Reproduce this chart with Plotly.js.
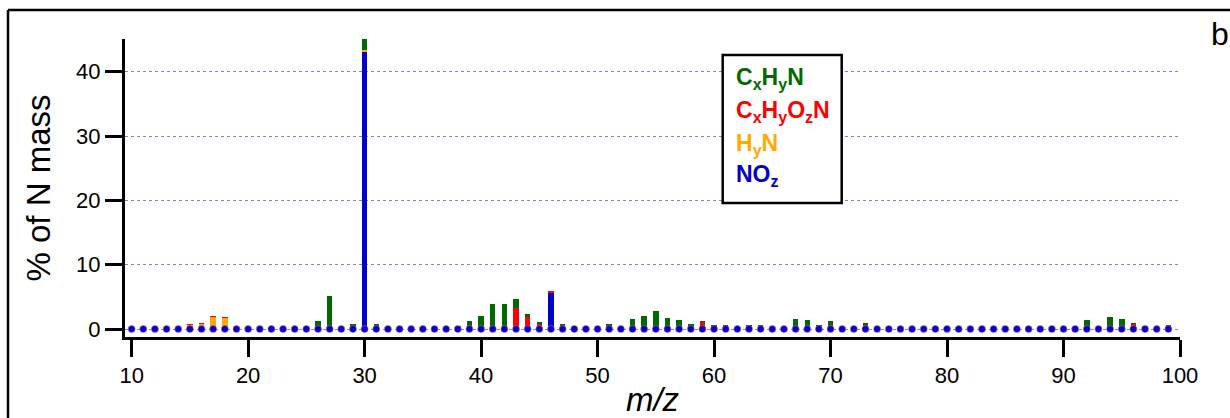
<!DOCTYPE html>
<html>
<head>
<meta charset="utf-8">
<script src="https://cdn.plot.ly/plotly-3.0.1.min.js"></script>
<style>html,body{margin:0;padding:0;background:#fff;}#chart{width:1230px;height:418px;}</style>
</head>
<body>
<div id="chart"></div>
<script>
// m/z values
const mz = [10,11,12,13,14,15,16,17,18,19,
            20,21,22,23,24,25,26,27,28,29,
            30,31,32,33,34,35,36,37,38,39,
            40,41,42,43,44,45,46,47,48,49,
            50,51,52,53,54,55,56,57,58,59,
            60,61,62,63,64,65,66,67,68,69,
            70,71,72,73,74,75,76,77,78,79,
            80,81,82,83,84,85,86,87,88,89,
            90,91,92,93,94,95,96,97,98,99];
// NOz (blue)
const NOz = [0,0,0,0,0,0,0,0,0,0,
             0,0,0,0,0,0,0,0,0,0,
             43.0,0,0,0,0,0,0,0,0,0,
             0,0,0,0,0,0,5.6,0.1,0,0,
             0,0,0,0,0,0,0,0,0,0,
             0,0,0,0,0,0,0,0,0,0,
             0,0,0,0,0,0,0,0,0,0,
             0,0,0,0,0,0,0,0,0,0,
             0,0,0,0,0,0,0,0,0,0];
// HyN (orange)
const HyN = [0,0,0,0,0,0.7,0.8,1.9,1.7,0,
             0,0,0,0,0,0,0,0,0,0,
             0.3,0.1,0.2,0,0,0,0,0,0,0,
             0,0,0,0,0,0,0.05,0.05,0,0,
             0,0,0,0,0,0,0,0,0,0,
             0,0,0,0,0,0,0,0,0,0,
             0,0,0,0,0,0,0,0,0,0,
             0,0,0,0,0,0,0,0,0,0,
             0,0,0,0,0,0,0,0,0,0];
// CxHyOzN (red)
const CxHyOzN = [0,0,0,0,0,0.15,0.2,0.2,0.15,0,
                 0,0,0,0,0,0,0,0,0,0,
                 0,0.2,0.15,0,0,0,0,0,0,0,
                 0,0.1,0.5,3.3,1.8,0.8,0.3,0.4,0.1,0,
                 0,0,0,0.1,0.2,0.5,0.4,0.3,0.1,1.1,
                 0.4,0.5,0.2,0.2,0.05,0,0,0.2,0.45,0.45,
                 0.55,0,0,0.7,0.2,0.05,0,0,0,0,
                 0,0,0,0,0,0,0,0.1,0,0,
                 0,0.2,0,0,0,0.05,0.8,0,0,0.5];
// CxHyN (green)
const CxHyN = [0,0,0,0,0,0,0,0,0,0,
               0,0,0,0,0,0,1.2,5.1,0,0.8,
               2.0,0.5,0,0,0,0,0,0,0.5,1.2,
               2.0,3.8,3.4,1.3,0.5,0.35,0,0.2,0,0,
               0,0.8,0,1.4,1.8,2.3,1.3,1.15,0.7,0.2,
               0.2,0.2,0.1,0.4,0.5,0,0,1.35,1.0,0.25,
               0.7,0,0,0.2,0,0,0,0,0,0,
               0,0,0,0,0.2,0,0.2,0,0,0,
               0,0,1.35,0,1.85,1.45,0.15,0.4,0,0.1];
// baseline markers (value 0 at each m/z)
const baseline = [0,0,0,0,0,0,0,0,0,0,
                  0,0,0,0,0,0,0,0,0,0,
                  0,0,0,0,0,0,0,0,0,0,
                  0,0,0,0,0,0,0,0,0,0,
                  0,0,0,0,0,0,0,0,0,0,
                  0,0,0,0,0,0,0,0,0,0,
                  0,0,0,0,0,0,0,0,0,0,
                  0,0,0,0,0,0,0,0,0,0,
                  0,0,0,0,0,0,0,0,0,0];

const seriesNames = ['NO<sub>z</sub>','H<sub>y</sub>N','C<sub>x</sub>H<sub>y</sub>O<sub>z</sub>N','C<sub>x</sub>H<sub>y</sub>N'];
const seriesColors = ['#0000cc','#ffaa00','#ff0000','#006a00'];
const seriesData = [NOz, HyN, CxHyOzN, CxHyN];

const W = 1230, H = 418;
const M = {l:125, r:50, t:39, b:81};
const pw = W - M.l - M.r, ph = H - M.t - M.b;
const px = x => (x - M.l) / pw;
const py = y => (H - M.b - y) / ph;

const FONT = 'Liberation Sans, Arial, Helvetica, sans-serif';

const traces = seriesData.map((d,i) => ({
  type:'bar', x: mz, y: d, name: seriesNames[i], width: 0.47,
  marker:{color: seriesColors[i], line:{width:0}},
  cliponaxis:false, showlegend:false, hoverinfo:'x+y+name'
}));
traces.push({
  type:'scatter', mode:'markers', x: mz, y: baseline, showlegend:false,
  marker:{color:'#0000cc', size:7, line:{color:'rgba(220,110,140,0.55)', width:1}},
  cliponaxis:false, hoverinfo:'skip'
});

const legendItems = [
  {t:'<b>C<sub>x</sub>H<sub>y</sub>N</b>', c:'#006a00', y:77},
  {t:'<b>C<sub>x</sub>H<sub>y</sub>O<sub>z</sub>N</b>', c:'#ff0000', y:110},
  {t:'<b>H<sub>y</sub>N</b>', c:'#ffaa00', y:143},
  {t:'<b>NO<sub>z</sub></b>', c:'#0000cc', y:175}
];

const annotations = legendItems.map(it => ({
  xref:'paper', yref:'paper', x: px(734), y: py(it.y + 1),
  xanchor:'left', yanchor:'middle', showarrow:false, text: it.t,
  font:{family:FONT, size:23, color: it.c}
}));
annotations.push({
  xref:'paper', yref:'paper', x: px(1220), y: py(34), xanchor:'center', yanchor:'middle',
  showarrow:false, text:'b', font:{family:FONT, size:32, color:'#000'}
});

const layout = {
  width: W, height: H,
  margin: M,
  paper_bgcolor:'#fff', plot_bgcolor:'#fff',
  font:{family:FONT, color:'#000', size:22},
  barmode:'stack',
  showlegend:false,
  xaxis:{
    range:[9.43,100], tickmode:'linear', tick0:10, dtick:10,
    showline:true, linecolor:'#000', linewidth:3,
    ticks:'outside', ticklen:17, tickwidth:3, tickcolor:'#000',
    showgrid:false, zeroline:false,
    tickfont:{family:FONT, size:22, color:'#000'},
    title:{text:'<i>m/z</i>', font:{family:FONT, size:33, color:'#000'}, standoff:2}
  },
  yaxis:{
    range:[-1.24,45.08], tickmode:'linear', tick0:0, dtick:10,
    showline:true, linecolor:'#000', linewidth:3,
    ticks:'outside', ticklen:17, tickwidth:3, tickcolor:'#000',
    showgrid:true, gridcolor:'rgba(100,100,255,0.85)', gridwidth:1, griddash:'3px,3px',
    zeroline:false,
    tickfont:{family:FONT, size:22, color:'#000'},
    title:{text:'% of N mass', font:{family:FONT, size:33, color:'#000'}, standoff:16}
  },
  shapes:[
    {type:'rect', xref:'paper', yref:'paper', x0:px(722.7), x1:px(841.7), y0:py(203), y1:py(55),
     line:{color:'#000', width:2.5}, fillcolor:'#fff', layer:'above'},
    {type:'line', xref:'paper', yref:'paper', x0:px(8), x1:px(1240), y0:py(10), y1:py(10),
     line:{color:'#000', width:2.5}},
    {type:'line', xref:'paper', yref:'paper', x0:px(8), x1:px(8), y0:py(10), y1:py(430),
     line:{color:'#000', width:2.5}}
  ],
  annotations: annotations
};

Plotly.newPlot('chart', traces, layout, {displayModeBar:false, staticPlot:true});
</script>
</body>
</html>
